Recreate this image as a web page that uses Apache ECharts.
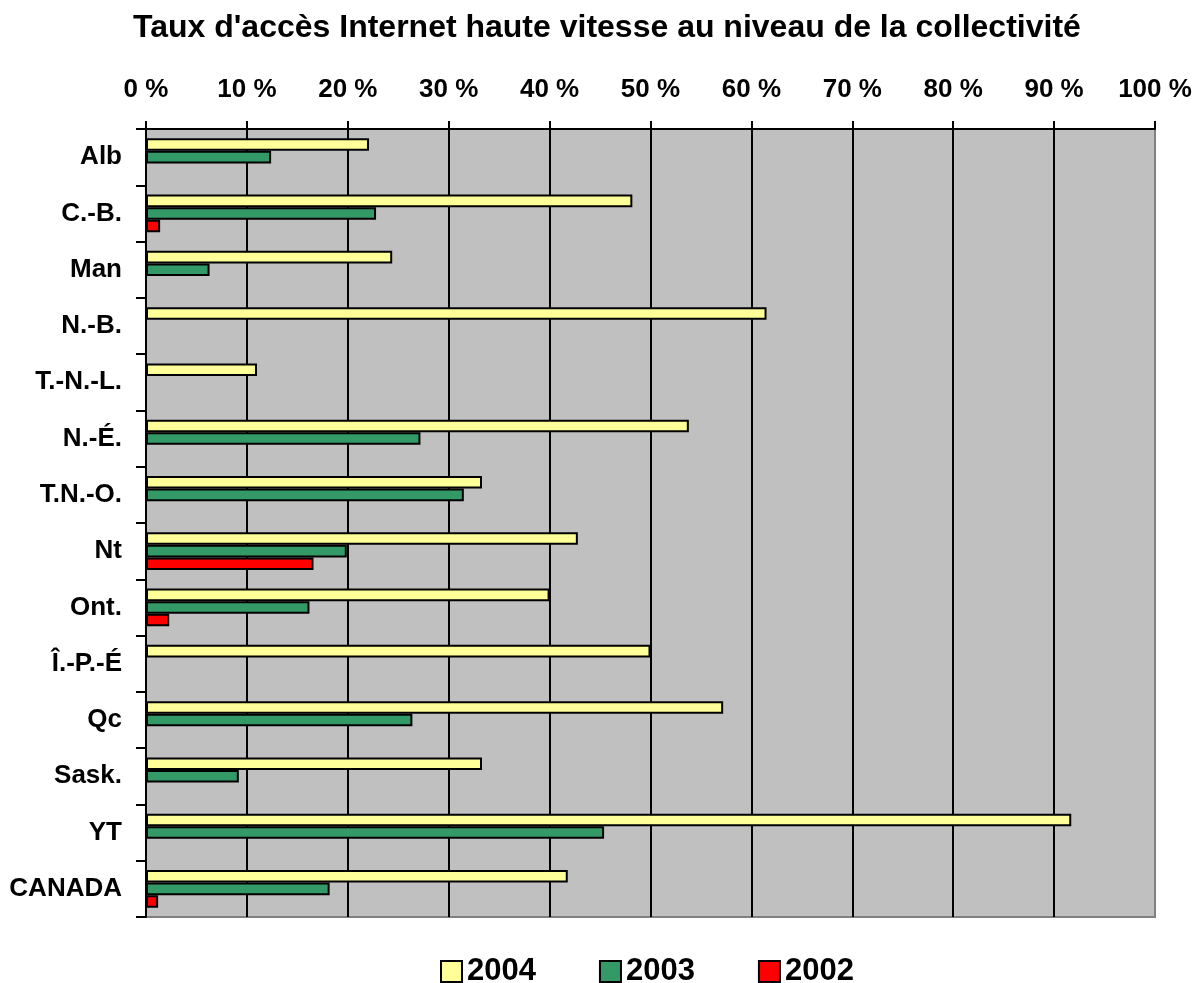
<!DOCTYPE html>
<html>
<head>
<meta charset="utf-8">
<style>
  html, body { margin: 0; padding: 0; background: #fff; }
  #chart { width: 1195px; height: 983px; }
</style>
<script src="https://cdn.jsdelivr.net/npm/echarts@6/dist/echarts.min.js"></script>
</head>
<body>
<div id="chart"></div>
<script>
// Provinces / territories, top to bottom
const regions = ['Alb', 'C.-B.', 'Man', 'N.-B.', 'T.-N.-L.', 'N.-É.', 'T.N.-O.', 'Nt', 'Ont.', 'Î.-P.-É', 'Qc', 'Sask.', 'YT', 'CANADA'];

// Share of communities with high-speed access (%), by year; null = no bar
const values2004 = [22.1, 48.2, 24.4, 61.5, 11.0, 53.8, 33.3, 42.8, 40.0, 50.0, 57.2, 33.3, 91.7, 41.8];
const values2003 = [12.4, 22.8, 6.3, null, null, 27.2, 31.5, 19.9, 16.2, null, 26.4, 9.2, 45.4, 18.2];
const values2002 = [null, 1.4, null, null, null, null, null, 16.6, 2.3, null, null, null, null, 1.2];

const seriesNames = ['2004', '2003', '2002'];
const seriesColors = ['#FFFF99', '#339966', '#FF0000'];
const seriesValues = [values2004, values2003, values2002];

const FONT = 'Liberation Sans, Arial, sans-serif';

// Gridline colours: black inside, grey at the right frame edge (100 %)
const gridColors = [];
for (let i = 0; i <= 10; i++) gridColors.push(i === 10 ? '#808080' : '#000000');

const chart = echarts.init(document.getElementById('chart'), null, { renderer: 'canvas' });

chart.setOption({
  animation: false,
  backgroundColor: '#ffffff',
  title: {
    text: "Taux d'accès Internet haute vitesse au niveau de la collectivité",
    left: 133,
    top: 12,
    padding: 0,
    textStyle: { fontFamily: FONT, fontSize: 32, fontWeight: 'bold', color: '#000' }
  },
  legend: {
    data: seriesNames,
    left: 440,
    top: 956,
    padding: 0,
    itemWidth: 21,
    itemHeight: 21,
    itemGap: 63,
    icon: 'rect',
    textStyle: { fontFamily: FONT, fontSize: 31, fontWeight: 'bold', color: '#000' }
  },
  grid: {
    left: 146,
    right: 40,
    top: 129,
    bottom: 66,
    show: true,
    backgroundColor: '#C0C0C0',
    borderColor: '#808080',
    borderWidth: 2
  },
  xAxis: {
    type: 'value',
    position: 'top',
    min: 0,
    max: 100,
    interval: 10,
    axisLine: { show: true, lineStyle: { color: '#000', width: 2 } },
    axisTick: { show: true, length: 8, lineStyle: { color: '#000', width: 2 } },
    axisLabel: {
      formatter: '{value} %',
      margin: 26,
      fontFamily: FONT, fontSize: 26, fontWeight: 'bold', color: '#000'
    },
    splitLine: { show: true, lineStyle: { color: gridColors, width: 2 } }
  },
  yAxis: {
    type: 'category',
    inverse: true,
    data: regions,
    axisLine: { show: true, lineStyle: { color: '#000', width: 2 } },
    axisTick: { show: true, length: 10, alignWithLabel: false, lineStyle: { color: '#000', width: 2 } },
    axisLabel: {
      margin: 24,
      fontFamily: FONT, fontSize: 26, fontWeight: 'bold', color: '#000'
    },
    splitLine: { show: false }
  },
  series: seriesNames.map((name, i) => ({
    name: name,
    type: 'bar',
    data: seriesValues[i],
    barGap: '0%',
    barCategoryGap: '33%',
    itemStyle: { color: seriesColors[i], borderColor: '#000', borderWidth: 2 }
  }))
});
</script>
</body>
</html>
